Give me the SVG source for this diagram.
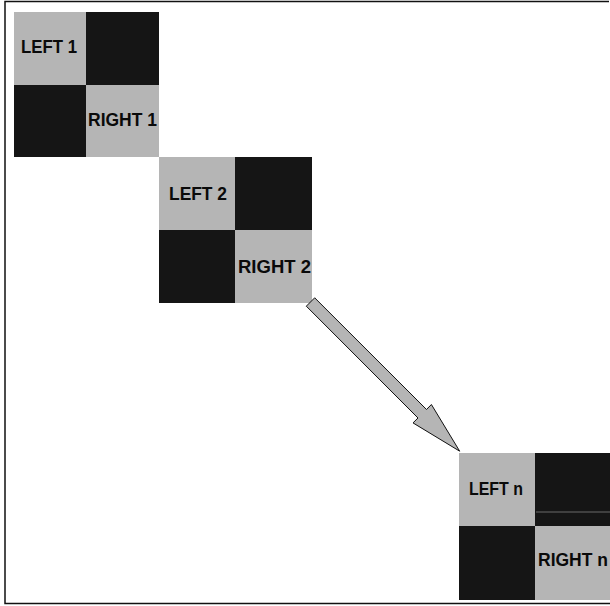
<svg xmlns="http://www.w3.org/2000/svg" width="610" height="606" viewBox="0 0 610 606">
<style>
.lt{fill:#b5b5b5}
.dk{fill:#151515}
.lb{font-family:"Liberation Sans",Arial,sans-serif;font-size:18px;font-weight:bold;fill:#0a0a0a}
.frame{stroke:#111;stroke-width:1.5;fill:none}
</style>
<rect width="610" height="606" fill="#fff"/>
<path class="frame" d="M609,1.5 H5 V603.5 H610"/>
<g id="block1">
<rect class="lt" x="14" y="12" width="72" height="73"/>
<rect class="dk" x="86" y="12" width="73" height="73"/>
<rect class="dk" x="14" y="85" width="72" height="72"/>
<rect class="lt" x="86" y="85" width="73" height="72"/>
<text class="lb" x="21" y="53" textLength="56" lengthAdjust="spacingAndGlyphs">LEFT 1</text>
<text class="lb" x="88" y="126" textLength="69" lengthAdjust="spacingAndGlyphs">RIGHT 1</text>
</g>
<g id="block2">
<rect class="lt" x="159" y="157" width="76" height="73"/>
<rect class="dk" x="235" y="157" width="77" height="73"/>
<rect class="dk" x="159" y="230" width="76" height="73"/>
<rect class="lt" x="235" y="230" width="77" height="73"/>
<text class="lb" x="169" y="200" textLength="58" lengthAdjust="spacingAndGlyphs">LEFT 2</text>
<text class="lb" x="238" y="273" textLength="73" lengthAdjust="spacingAndGlyphs">RIGHT 2</text>
</g>
<g id="blockn">
<rect class="lt" x="459" y="453" width="76" height="73"/>
<rect class="dk" x="535" y="453" width="75" height="73"/>
<rect class="dk" x="459" y="526" width="76" height="74"/>
<rect class="lt" x="535" y="526" width="75" height="74"/>
<line x1="536" y1="512" x2="610" y2="512" stroke="#6a6a6a" stroke-width="1"/>
<text class="lb" x="469" y="495" textLength="54" lengthAdjust="spacingAndGlyphs">LEFT n</text>
<text class="lb" x="538" y="566" textLength="70" lengthAdjust="spacingAndGlyphs">RIGHT n</text>
</g>
<g id="connectors">
<polygon points="306.3,306.2 314.7,297.8 426.5,409.5 431.4,404.5 459.7,451.2 413,422.9 418,418" fill="#b5b5b5" stroke="#111" stroke-width="1" stroke-linejoin="miter"/>
</g>
</svg>
